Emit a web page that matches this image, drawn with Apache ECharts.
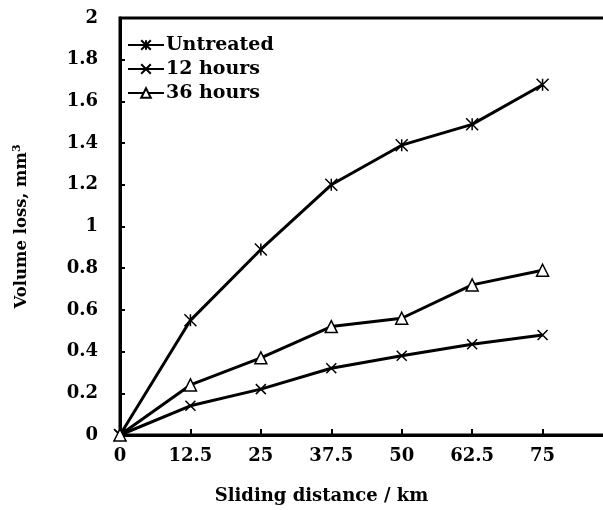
<!DOCTYPE html>
<html>
<head>
<meta charset="utf-8">
<script src="https://cdn.jsdelivr.net/npm/echarts@6/dist/echarts.min.js"></script>
<style>
  html, body { margin: 0; padding: 0; background: #fff; }
  #chart { width: 603px; height: 510px; }
</style>
</head>
<body>
<div id="chart"></div>
<script>
// sliding distance (km)
const distance = [0, 12.5, 25, 37.5, 50, 62.5, 75];
// volume loss (mm3)
const untreated = [0, 0.55, 0.89, 1.2, 1.39, 1.49, 1.68];
const hours12 = [0, 0.14, 0.22, 0.32, 0.38, 0.435, 0.48];
const hours36 = [0, 0.24, 0.37, 0.52, 0.56, 0.72, 0.79];
const seriesNames = ['Untreated', '12 hours', '36 hours'];

const font = 'DejaVu Serif';
const asterisk = 'path://M0,0L10,10M10,0L0,10M5,0L5,10';
const cross = 'path://M0,0L10,10M10,0L0,10';

const toPairs = vals => distance.map((d, i) => [d, vals[i]]);

const makeSeries = (name, vals, symbol, size) => ({
  name: name,
  type: 'line',
  data: toPairs(vals),
  symbol: symbol,
  symbolSize: size,
  showAllSymbol: true,
  lineStyle: { color: '#000', width: 3 },
  itemStyle: { color: symbol === 'triangle' ? '#fff' : 'none', borderColor: '#000', borderWidth: 1.5 },
  emphasis: { disabled: true }
});

const chart = echarts.init(document.getElementById('chart'));
chart.setOption({
  backgroundColor: '#fff',
  animation: false,
  grid: {
    left: 120, top: 18, width: 493, height: 417,
    outerBoundsMode: 'none',
    containLabel: false,
    show: true, borderColor: '#000', borderWidth: 3
  },
  legend: {
    orient: 'vertical',
    left: 122, top: 30,
    itemWidth: 36, itemHeight: 12, itemGap: 4,
    data: seriesNames,
    textStyle: { fontFamily: font, fontWeight: 'bold', fontSize: 19, lineHeight: 20, color: '#000', padding: [0, 0, 0, -3] }
  },
  xAxis: {
    type: 'value',
    min: 0, max: 87.5, interval: 12.5,
    name: 'Sliding distance / km',
    nameLocation: 'middle',
    nameGap: 52,
    nameTextStyle: { fontFamily: font, fontWeight: 'bold', fontSize: 18, color: '#000', padding: [0, 90, 0, 0] },
    axisLine: { lineStyle: { color: '#000', width: 3 } },
    axisTick: { inside: true, length: 6, lineStyle: { color: '#000', width: 2 } },
    axisLabel: {
      margin: 12,
      fontFamily: font, fontWeight: 'bold', fontSize: 18, color: '#000',
      formatter: v => (v > 75 ? '' : String(v))
    },
    splitLine: { show: false }
  },
  yAxis: {
    type: 'value',
    min: 0, max: 2, interval: 0.2,
    name: 'Volume loss, mm{sup|3}',
    nameLocation: 'middle',
    nameGap: 89,
    nameTextStyle: {
      fontFamily: font, fontWeight: 'bold', fontSize: 16.5, color: '#000',
      rich: { sup: { fontFamily: font, fontWeight: 'bold', fontSize: 11, color: '#000', verticalAlign: 'top', padding: [0, 0, 8, 0] } }
    },
    axisLine: { lineStyle: { color: '#000', width: 3 } },
    axisTick: { inside: true, length: 5, lineStyle: { color: '#000', width: 2 } },
    axisLabel: {
      margin: 22,
      fontFamily: font, fontWeight: 'bold', fontSize: 18, color: '#000',
      formatter: v => String(Math.round(v * 10) / 10)
    },
    splitLine: { show: false }
  },
  series: [
    makeSeries(seriesNames[0], untreated, asterisk, 12),
    makeSeries(seriesNames[1], hours12, cross, 10),
    makeSeries(seriesNames[2], hours36, 'triangle', 12)
  ]
});
</script>
</body>
</html>
